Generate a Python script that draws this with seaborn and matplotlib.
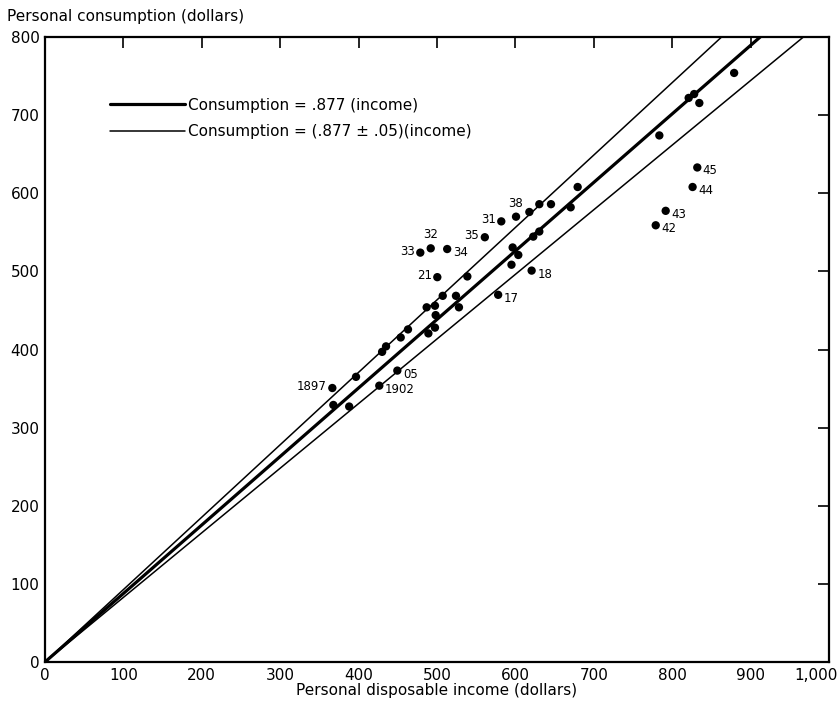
import matplotlib
matplotlib.use("Agg")
import matplotlib.pyplot as plt
from matplotlib.transforms import ScaledTranslation
import seaborn as sns
import pandas as pd
import numpy as np

# ---- data ----
income = [366.5, 367.8, 388, 396.7, 426.4, 449.4, 430, 435, 453.7, 463,
          489, 497.4, 486.8, 497.4, 498.3, 507.3, 524.2, 528, 538.7, 500.4,
          478.7, 492, 513, 561, 582, 600.8, 617.8, 630.5, 645.4, 670.5,
          679.4, 630.5, 622.8, 596.5, 603.7, 595, 620.7, 578, 783.6, 821,
          828, 834.6, 879, 779, 791.7, 826, 832]
consumption = [350.7, 329, 327, 365, 353.7, 373, 397, 404, 415.4, 425.7,
               420.6, 428, 454, 456, 444, 468.7, 468.7, 454, 493.5, 492.6,
               524, 529.5, 528.6, 543.7, 564, 570, 576, 586, 586, 582,
               608, 551, 544.5, 530.6, 521, 508.5, 501, 470, 674, 722,
               727, 715.5, 754, 559, 577.5, 608, 633]

# labelled years
label_text = ["1897", "1902", "05", "21", "33", "32", "34", "35", "31", "38",
              "18", "17", "45", "44", "43", "42"]
label_income = [366.5, 426.4, 449.4, 500.4, 478.7, 492, 513, 561, 582, 600.8,
                620.7, 578, 832, 826, 791.7, 779]
label_cons = [350.7, 353.7, 373, 492.6, 524, 529.5, 528.6, 543.7, 564, 570,
              501, 470, 633, 608, 577.5, 559]
label_side = ["left", "right", "right", "left", "left", "above", "right", "left",
              "left", "above", "right", "right", "right", "right", "right", "right"]

slope_main = 0.877
slope_band = 0.05
income_grid = [0, 1000]

x_ticks = [0, 100, 200, 300, 400, 500, 600, 700, 800, 900, 1000]
x_tick_labels = ["0", "100", "200", "300", "400", "500", "600", "700", "800", "900", "1,000"]
y_ticks = [0, 100, 200, 300, 400, 500, 600, 700, 800]

sns.set_theme(style="white")
plt.rcParams["font.family"] = ["DejaVu Sans"]
plt.rcParams["text.color"] = "black"
plt.rcParams["axes.labelcolor"] = "black"

fig = plt.figure(figsize=(8.39, 7.04), dpi=100)
ax = fig.add_axes([45 / 839, 42 / 704, 784 / 839, 625 / 704])

grid = np.array(income_grid, dtype=float)
lines_df = pd.DataFrame({
    "income": np.concatenate([grid, grid, grid]),
    "consumption": np.concatenate([grid * slope_main,
                                   grid * (slope_main + slope_band),
                                   grid * (slope_main - slope_band)]),
    "line": ["main"] * 2 + ["upper"] * 2 + ["lower"] * 2,
})

sns.lineplot(data=lines_df[lines_df.line == "main"], x="income", y="consumption",
             color="black", lw=2.3, ax=ax, label="Consumption = .877 (income)")
sns.lineplot(data=lines_df[lines_df.line == "upper"], x="income", y="consumption",
             color="black", lw=1.1, ax=ax, label="Consumption = (.877 \u00b1 .05)(income)")
sns.lineplot(data=lines_df[lines_df.line == "lower"], x="income", y="consumption",
             color="black", lw=1.1, ax=ax, legend=False)

pts = pd.DataFrame({"income": income, "consumption": consumption})
sns.scatterplot(data=pts, x="income", y="consumption", color="black", s=36,
                edgecolor="none", ax=ax, zorder=5, legend=False)

offsets = {"left": ((-4, 1), "right", "center"),
           "right": ((4, -2.5), "left", "center"),
           "above": ((0, 5), "center", "bottom")}
for t, xi, yi, side in zip(label_text, label_income, label_cons, label_side):
    (dx, dy), ha, va = offsets[side]
    ax.annotate(t, (xi, yi), xytext=(dx, dy), textcoords="offset points",
                ha=ha, va=va, fontsize=8.5, color="black")

ax.set_xlim(0, 1000)
ax.set_ylim(0, 800)
ax.set_xticks(x_ticks)
ax.set_xticklabels(x_tick_labels)
ax.set_yticks(y_ticks)
ax.tick_params(direction="in", length=8, width=1.2, top=True, right=True,
               labelsize=11, colors="black", pad=4)
for sp in ax.spines.values():
    sp.set_visible(True)
    sp.set_color("black")
    sp.set_linewidth(1.6)

# keep the last x tick label inside the figure
last = ax.get_xticklabels()[-1]
last.set_transform(last.get_transform() + ScaledTranslation(-9 / 72, 0, fig.dpi_scale_trans))

ax.set_xlabel("Personal disposable income (dollars)", fontsize=11, color="black")
ax.xaxis.set_label_coords(0.5, -0.045)
ax.xaxis.label.set_va("center")
ax.set_ylabel("Personal consumption (dollars)", fontsize=11, rotation=0,
              ha="left", va="center", color="black")
ax.yaxis.set_label_coords(-0.048, 1.032)

leg = ax.legend(loc="upper left", bbox_to_anchor=(0.083, 0.903), frameon=False,
                fontsize=11, handlelength=4.9, handletextpad=0.2,
                labelspacing=0.75, borderpad=0, borderaxespad=0)
for txt in leg.get_texts():
    txt.set_color("black")

fig.savefig("out.png", dpi=100)
